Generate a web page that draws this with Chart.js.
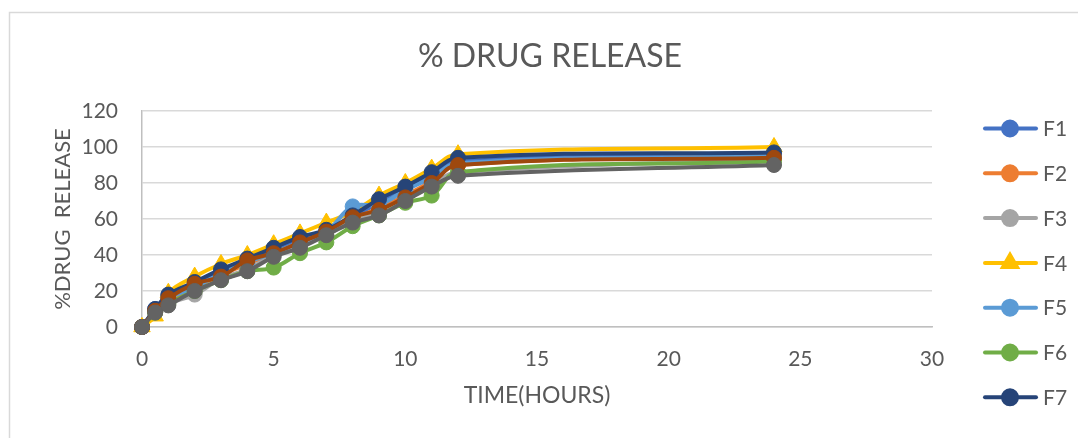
<!DOCTYPE html>
<html>
<head>
<meta charset="utf-8">
<script src="https://cdn.jsdelivr.net/npm/chart.js@4.4.1/dist/chart.umd.min.js"></script>
<style>
  html, body { margin: 0; padding: 0; background: #ffffff; }
  #wrap { width: 1078px; height: 438px; position: relative; }
</style>
</head>
<body>
<div id="wrap"><canvas id="c" width="1078" height="438"></canvas></div>
<script>
// Sampling times (hours)
const hours = [0, 0.5, 1, 2, 3, 4, 5, 6, 7, 8, 9, 10, 11, 12, 24];

// Cumulative % drug release for each formulation
const F1 = [0, 10, 17, 23, 31, 37, 42, 49, 53, 61, 69, 77, 84, 92, 96];
const F2 = [0, 9, 15, 22, 29, 35, 41, 47, 53, 60, 66, 73, 81, 90, 95];
const F3 = [0, 8, 13, 18, 27, 32, 40, 45, 51, 59, 64, 71, 79, 86, 93];
const F4 = [0, 6, 19, 28, 35, 40, 46, 52, 58, 64, 73, 80, 88, 96, 100];
const F5 = [0, 9, 16, 22, 30, 36, 41, 47, 53, 67, 68, 76, 83, 91, 95];
const F6 = [0, 8, 13, 20, 26, 31, 33, 41, 47, 56, 62, 69, 73, 86, 92];
const F7 = [0, 10, 18, 25, 32, 38, 44, 50, 54, 62, 71, 78, 86, 94, 97];
const F8 = [0, 9, 16, 24, 28, 37, 41, 47, 53, 61, 65, 72, 80, 90, 94];
const F9 = [0, 8, 12, 20, 26, 31, 39, 44, 51, 58, 62, 70, 78, 84, 90];

const seriesNames = ['F1', 'F2', 'F3', 'F4', 'F5', 'F6', 'F7', 'F8', 'F9'];
const seriesValues = [F1, F2, F3, F4, F5, F6, F7, F8, F9];
const seriesColors = ['#4472C4', '#ED7D31', '#A5A5A5', '#FFC000', '#5B9BD5', '#70AD47', '#264478', '#9E480E', '#636363'];
const seriesMarkers = ['circle', 'circle', 'circle', 'triangle', 'circle', 'circle', 'circle', 'circle', 'circle'];
const legendCount = 7;

// Axis ticks
const xTicks = [0, 5, 10, 15, 20, 25, 30];
const yTicks = [0, 20, 40, 60, 80, 100, 120];

const chartTitle = '% DRUG RELEASE';
const xTitle = 'TIME(HOURS)';
const yTitle = '%DRUG  RELEASE';

const FONT = 'Lato, "Open Sans", sans-serif';
const TEXT = '#595959';

const datasets = seriesNames.map((name, i) => ({
  label: name,
  data: hours.map((h, k) => ({ x: h, y: seriesValues[i][k] })),
  borderColor: seriesColors[i],
  backgroundColor: seriesColors[i],
  pointBackgroundColor: seriesColors[i],
  pointBorderColor: seriesColors[i],
  pointStyle: seriesMarkers[i],
  pointRadius: seriesMarkers[i] === 'triangle' ? 9.5 : 7.5,
  pointBorderWidth: 1,
  borderWidth: 4,
  tension: 0.4,
  fill: false,
  clip: false,
  order: -i
}));

// Outer frame of the chart box
const framePlugin = {
  id: 'frame',
  beforeDraw(chart) {
    const ctx = chart.ctx;
    ctx.save();
    ctx.fillStyle = '#ffffff';
    ctx.fillRect(0, 0, chart.width, chart.height);
    ctx.strokeStyle = '#d9d9d9';
    ctx.lineWidth = 1.5;
    ctx.beginPath();
    ctx.moveTo(9.5, chart.height + 5);
    ctx.lineTo(9.5, 12.5);
    ctx.lineTo(chart.width + 5, 12.5);
    ctx.stroke();
    ctx.restore();
  }
};

// Chart heading
const headingPlugin = {
  id: 'heading',
  afterDraw(chart) {
    const ctx = chart.ctx;
    ctx.save();
    ctx.fillStyle = TEXT;
    ctx.font = '32px ' + FONT;
    ctx.textAlign = 'center';
    ctx.textBaseline = 'middle';
    ctx.fillText(chartTitle, 550, 57);
    ctx.restore();
  }
};

// Legend with a line segment and marker per series
const sideLegendPlugin = {
  id: 'sideLegend',
  afterDraw(chart) {
    const ctx = chart.ctx;
    ctx.save();
    for (let i = 0; i < legendCount; i++) {
      const ds = chart.data.datasets[i];
      const y = 128.5 + i * 44.8;
      ctx.strokeStyle = ds.borderColor;
      ctx.lineWidth = 4;
      ctx.lineCap = 'round';
      ctx.beginPath();
      ctx.moveTo(985, y);
      ctx.lineTo(1036, y);
      ctx.stroke();
      ctx.fillStyle = ds.borderColor;
      Chart.helpers.drawPoint(ctx, {
        pointStyle: ds.pointStyle,
        radius: ds.pointStyle === 'triangle' ? 8 : 7,
        borderWidth: 1,
        rotation: 0
      }, 1010, y);
      ctx.fillStyle = TEXT;
      ctx.font = '21px ' + FONT;
      ctx.textAlign = 'left';
      ctx.textBaseline = 'middle';
      ctx.fillText(ds.label, 1043, y + 1);
    }
    ctx.restore();
  }
};

new Chart(document.getElementById('c'), {
  type: 'line',
  data: { datasets },
  plugins: [framePlugin, headingPlugin, sideLegendPlugin],
  options: {
    responsive: false,
    animation: false,
    devicePixelRatio: 1,
    layout: { padding: { left: 0, top: 111, right: 146, bottom: 0 } },
    plugins: {
      legend: { display: false },
      title: { display: false },
      tooltip: { enabled: false }
    },
    scales: {
      x: {
        type: 'linear',
        min: 0,
        max: 30,
        afterBuildTicks: s => { s.ticks = xTicks.map(v => ({ value: v })); },
        afterFit: s => { s.height = 111; },
        grid: { display: false, drawTicks: false },
        border: { display: true, color: '#bfbfbf', width: 1.5 },
        ticks: { color: TEXT, font: { family: FONT, size: 21 }, padding: 20, maxRotation: 0 },
        title: { display: true, text: xTitle, color: TEXT, font: { family: FONT, size: 23 }, padding: { top: 0, bottom: 29 } }
      },
      y: {
        type: 'linear',
        min: 0,
        max: 120,
        afterBuildTicks: s => { s.ticks = yTicks.map(v => ({ value: v })); },
        afterFit: s => { s.width = 142; },
        grid: { color: '#d9d9d9', lineWidth: 1.5, drawTicks: false },
        border: { display: true, color: '#bfbfbf', width: 1.5 },
        ticks: { color: TEXT, font: { family: FONT, size: 21 }, padding: 24 },
        title: { display: true, text: yTitle, color: TEXT, font: { family: FONT, size: 22 }, padding: { top: 50, bottom: 0 } }
      }
    }
  }
});
</script>
</body>
</html>
